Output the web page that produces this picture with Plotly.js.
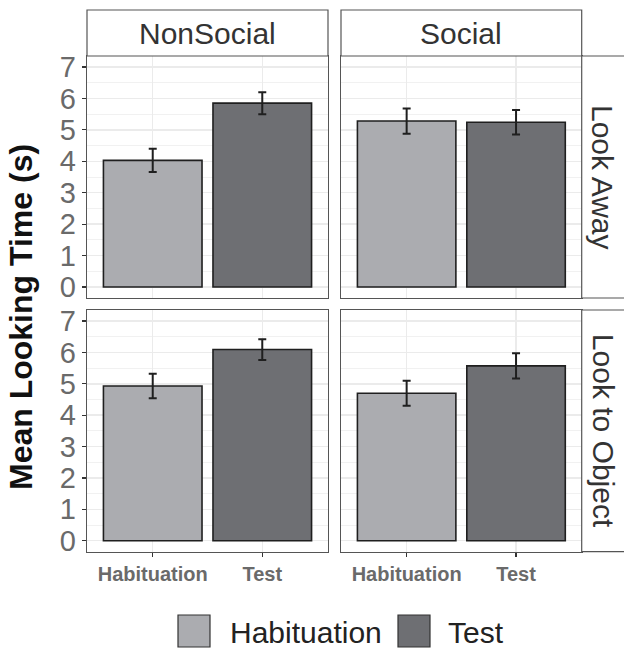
<!DOCTYPE html>
<html>
<head>
<meta charset="utf-8">
<script src="https://cdn.plot.ly/plotly-3.0.1.min.js"></script>
<style>html,body{margin:0;padding:0;background:#fff;}#chart{width:624px;height:648px;}</style>
</head>
<body>
<div id="chart"></div>
<script>
// ---- data ----
var conditions = ["Habituation", "Test"];
var colNames = ["NonSocial", "Social"];
var rowNames = ["Look Away", "Look to Object"];
var nonSocialLookAway = [4.03, 5.85];
var nonSocialLookAwayErr = [0.37, 0.35];
var socialLookAway = [5.28, 5.24];
var socialLookAwayErr = [0.40, 0.39];
var nonSocialLookObject = [4.93, 6.09];
var nonSocialLookObjectErr = [0.39, 0.33];
var socialLookObject = [4.70, 5.57];
var socialLookObjectErr = [0.40, 0.40];
var yTicks = [0, 1, 2, 3, 4, 5, 6, 7];

// ---- styling ----
var W = 624, H = 648;
var fills = ["#ABACB0", "#6E6F73"];
var FONT = "Liberation Sans, Arial, sans-serif";
var px = function (v) { return v / W; };
var py = function (v) { return (H - v) / H; };

var colDom = [[px(87), px(328)], [px(341), px(581.7)]];
var rowDom = [[py(298), py(56)], [py(551.7), py(310)]];

var panels = [
  {row: 0, col: 0, vals: nonSocialLookAway, errs: nonSocialLookAwayErr},
  {row: 0, col: 1, vals: socialLookAway, errs: socialLookAwayErr},
  {row: 1, col: 0, vals: nonSocialLookObject, errs: nonSocialLookObjectErr},
  {row: 1, col: 1, vals: socialLookObject, errs: socialLookObjectErr}
];

var traces = [];
var layout = {
  width: W, height: H,
  margin: {l: 0, r: 0, t: 0, b: 0},
  paper_bgcolor: "#fff",
  plot_bgcolor: "#fff",
  barmode: "overlay",
  showlegend: false,
  font: {family: FONT},
  shapes: [],
  annotations: []
};

panels.forEach(function (p, k) {
  var n = k + 1;
  var xa = n === 1 ? "x" : "x" + n;
  var ya = n === 1 ? "y" : "y" + n;
  conditions.forEach(function (c, i) {
    traces.push({
      type: "bar",
      x: [c], y: [p.vals[i]],
      width: [0.9],
      xaxis: xa, yaxis: ya,
      marker: {color: fills[i], line: {color: "#1f1f1f", width: 1.6}},
      error_y: {type: "data", array: [p.errs[i]], visible: true, color: "#1f1f1f", thickness: 2, width: 4},
      hoverinfo: "skip"
    });
  });
  var bottom = p.row === 1, left = p.col === 0;
  layout["xaxis" + (n === 1 ? "" : n)] = {
    domain: colDom[p.col], anchor: ya,
    type: "category", categoryorder: "array", categoryarray: conditions,
    range: [-0.6, 1.6],
    showgrid: true, gridcolor: "#EBEBEB", gridwidth: 1.5,
    showline: true, mirror: true, linecolor: "#555", linewidth: 1.2,
    ticks: bottom ? "outside" : "", ticklen: 4, tickcolor: "#333", tickwidth: 1.2,
    showticklabels: bottom,
    tickfont: {family: FONT, size: 20, color: "#6a6a6a", weight: "bold"},
    zeroline: false, fixedrange: true
  };
  layout["yaxis" + (n === 1 ? "" : n)] = {
    domain: rowDom[p.row], anchor: xa,
    range: [-0.35, 7.35],
    tickvals: yTicks, ticktext: yTicks.map(String),
    showgrid: true, gridcolor: "#EBEBEB", gridwidth: 1.5,
    minor: {dtick: 0.5, showgrid: true, gridcolor: "#F0F0F0", gridwidth: 0.9},
    showline: true, mirror: true, linecolor: "#555", linewidth: 1.2,
    ticks: left ? "outside" : "", ticklen: 4, tickcolor: "#333", tickwidth: 1.2,
    showticklabels: left,
    tickfont: {family: FONT, size: 29, color: "#6a6a6a"},
    zeroline: false, fixedrange: true
  };
});

// facet strips (column)
colNames.forEach(function (name, j) {
  layout.shapes.push({type: "rect", xref: "paper", yref: "paper",
    x0: colDom[j][0], x1: colDom[j][1], y0: py(56), y1: py(10),
    line: {color: "#555", width: 1.2}, fillcolor: "#fff", layer: "above"});
  layout.annotations.push({xref: "paper", yref: "paper", showarrow: false,
    x: (colDom[j][0] + colDom[j][1]) / 2, y: py(33), xanchor: "center", yanchor: "middle",
    text: name, font: {family: FONT, size: 30, color: "#333"}});
});
// facet strips (row)
rowNames.forEach(function (name, r) {
  layout.shapes.push({type: "rect", xref: "paper", yref: "paper",
    x0: px(581.7), x1: px(626), y0: rowDom[r][0], y1: rowDom[r][1],
    line: {color: "#555", width: 1.2}, fillcolor: "#fff", layer: "above"});
  layout.annotations.push({xref: "paper", yref: "paper", showarrow: false,
    x: px(603), y: (rowDom[r][0] + rowDom[r][1]) / 2, xanchor: "center", yanchor: "middle",
    textangle: 90, text: name, font: {family: FONT, size: 30, color: "#333"}});
});

// y axis title
layout.annotations.push({xref: "paper", yref: "paper", showarrow: false,
  x: px(21), y: py(317), xanchor: "center", yanchor: "middle", textangle: -90,
  text: "<b>Mean Looking Time (s)</b>", font: {family: FONT, size: 32, color: "#111"}});

// legend (manual, keys sized like ggplot)
var legendKeys = [{x: 178, tx: 228}, {x: 398, tx: 446}];
conditions.forEach(function (c, i) {
  layout.shapes.push({type: "rect", xref: "paper", yref: "paper",
    x0: px(legendKeys[i].x), x1: px(legendKeys[i].x + 32), y0: py(647), y1: py(615),
    line: {color: "#333", width: 1.2}, fillcolor: fills[i]});
  layout.annotations.push({xref: "paper", yref: "paper", showarrow: false,
    x: px(legendKeys[i].tx), y: py(632), xanchor: "left", yanchor: "middle",
    text: c, font: {family: FONT, size: 30, color: "#222"}});
});

Plotly.newPlot("chart", traces, layout, {staticPlot: true, displayModeBar: false});
</script>
</body>
</html>
